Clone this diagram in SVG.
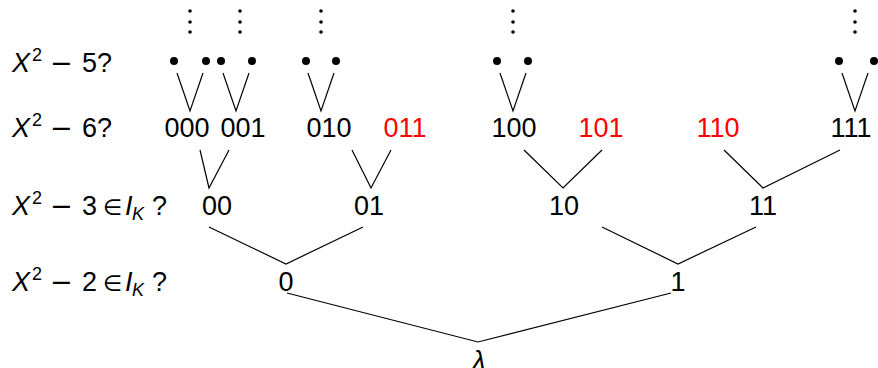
<svg xmlns="http://www.w3.org/2000/svg" width="878" height="368" viewBox="0 0 878 368">
  <style>
    text { font-family: "Liberation Sans", "DejaVu Sans", sans-serif; font-size: 27px; fill: #000; }
    .node { text-anchor: middle; }
    .red { fill: #ff0000; }
    .it { font-style: italic; }
    .sup { font-size: 18px; }
    .sub { font-size: 18px; font-style: italic; }
    .op { font-family: "DejaVu Sans", sans-serif; font-size: 27px; }
    .el { font-family: "DejaVu Sans", sans-serif; font-size: 22px; }
    .edge { stroke: #000; stroke-width: 1.2; fill: none; }
    .leaf { fill: #000; }
  </style>
  <rect width="878" height="368" fill="#fff"/>

  <!-- row labels -->
  <g id="labels">
    <text y="72"><tspan class="it" x="12">X</tspan><tspan class="sup" x="32" y="61">2</tspan><tspan class="op" x="50" y="72">−</tspan><tspan x="82">5?</tspan></text>
    <text y="137"><tspan class="it" x="12">X</tspan><tspan class="sup" x="32" y="126">2</tspan><tspan class="op" x="50" y="137">−</tspan><tspan x="82">6?</tspan></text>
    <text y="215"><tspan class="it" x="12">X</tspan><tspan class="sup" x="32" y="204">2</tspan><tspan class="op" x="50" y="215">−</tspan><tspan x="82">3</tspan><tspan class="el" x="103">∈</tspan><tspan class="it" x="125">I</tspan><tspan class="sub" x="132" y="220">K</tspan><tspan x="152" y="215">?</tspan></text>
    <text y="291"><tspan class="it" x="12">X</tspan><tspan class="sup" x="32" y="280">2</tspan><tspan class="op" x="50" y="291">−</tspan><tspan x="82">2</tspan><tspan class="el" x="103">∈</tspan><tspan class="it" x="125">I</tspan><tspan class="sub" x="132" y="296">K</tspan><tspan x="152" y="291">?</tspan></text>
  </g>

  <!-- continuation dots -->
  <g id="vdots" class="leaf">
    <circle cx="190" cy="11" r="1.8"/><circle cx="190" cy="22" r="1.8"/><circle cx="190" cy="32" r="1.8"/>
    <circle cx="240" cy="11" r="1.8"/><circle cx="240" cy="22" r="1.8"/><circle cx="240" cy="32" r="1.8"/>
    <circle cx="321" cy="11" r="1.8"/><circle cx="321" cy="22" r="1.8"/><circle cx="321" cy="32" r="1.8"/>
    <circle cx="513" cy="11" r="1.8"/><circle cx="513" cy="22" r="1.8"/><circle cx="513" cy="32" r="1.8"/>
    <circle cx="855" cy="11" r="1.8"/><circle cx="855" cy="22" r="1.8"/><circle cx="855" cy="32" r="1.8"/>
  </g>

  <!-- level 4 leaves -->
  <g id="leaves" class="leaf">
    <circle cx="174" cy="61" r="4"/><circle cx="206" cy="61" r="4"/>
    <circle cx="221" cy="61" r="4"/><circle cx="252" cy="61" r="4"/>
    <circle cx="306" cy="61" r="4"/><circle cx="336" cy="61" r="4"/>
    <circle cx="497" cy="61" r="4"/><circle cx="528" cy="61" r="4"/>
    <circle cx="839" cy="61" r="4"/><circle cx="874" cy="61" r="4"/>
  </g>

  <!-- level 3 nodes -->
  <g id="n000"><text class="node" x="187" y="137">000</text></g>
  <g id="n001"><text class="node" x="243" y="137">001</text></g>
  <g id="n010"><text class="node" x="329" y="137">010</text></g>
  <g id="n011"><text class="node red" x="405" y="137">011</text></g>
  <g id="n100"><text class="node" x="514" y="137">100</text></g>
  <g id="n101"><text class="node red" x="601" y="137">101</text></g>
  <g id="n110"><text class="node red" x="718" y="137">110</text></g>
  <g id="n111"><text class="node" x="851" y="137">111</text></g>

  <!-- level 2 nodes -->
  <g id="n00"><text class="node" x="217" y="215">00</text></g>
  <g id="n01"><text class="node" x="369" y="215">01</text></g>
  <g id="n10"><text class="node" x="564" y="215">10</text></g>
  <g id="n11"><text class="node" x="763" y="215">11</text></g>

  <!-- level 1 nodes -->
  <g id="n0"><text class="node" x="286" y="291">0</text></g>
  <g id="n1"><text class="node" x="678" y="291">1</text></g>

  <!-- root -->
  <g id="root"><text class="node it" x="479" y="370">λ</text></g>

  <!-- tree edges -->
  <g id="connectors" class="edge">
    <polyline points="177,73 190,111 203,73"/>
    <polyline points="223,73 236,111 249,73"/>
    <polyline points="308,73 321,111 334,73"/>
    <polyline points="500,73 513,111 526,73"/>
    <polyline points="842,73 855,111 868,73"/>

    <polyline points="200,150 209,188 229,150"/>
    <polyline points="352,150 371,188 391,150"/>
    <polyline points="524,150 563,188 602,150"/>
    <polyline points="724,150 763,188 840,150"/>

    <polyline points="209,227 286,264 363,227"/>
    <polyline points="602,227 678,264 756,227"/>

    <polyline points="287,293 478,342 671,293"/>
  </g>
</svg>
